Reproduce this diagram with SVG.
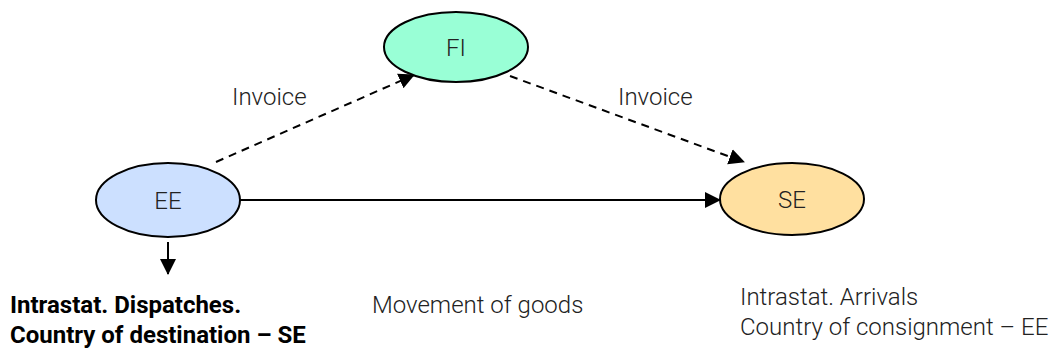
<svg xmlns="http://www.w3.org/2000/svg" width="1051" height="352" viewBox="0 0 1051 352">
<defs>
<marker id="ahd" markerWidth="16" markerHeight="18" refX="15" refY="8" orient="auto" markerUnits="userSpaceOnUse" viewBox="0 0 16 16">
<path d="M0,0 L16,8 L0,16 Z" fill="#000"/>
</marker>
</defs>
<style>
.node ellipse{stroke:#000;stroke-width:2}
.lbl{font-family:Roboto,"Liberation Sans",sans-serif;font-weight:300;font-size:24px;fill:#222}
.bold{font-family:Roboto,"Liberation Sans",sans-serif;font-weight:700;font-size:24px;fill:#000}
.edge{stroke:#000;stroke-width:2;fill:none}
.dash{stroke-dasharray:8 6}
</style>
<rect width="1051" height="352" fill="#fff"/>
<g id="connectors">
<line class="edge dash" x1="216" y1="162" x2="414" y2="75" marker-end="url(#ahd)"/>
<line class="edge dash" x1="510" y1="76" x2="744" y2="162" marker-end="url(#ahd)"/>
<line class="edge" x1="240" y1="200" x2="720" y2="200" marker-end="url(#ahd)"/>
<line class="edge" x1="168" y1="242" x2="168" y2="274" marker-end="url(#ahd)"/>
</g>
<g id="node-EE" class="node">
<ellipse cx="168" cy="200" rx="72" ry="37" fill="#cce0ff"/>
<text class="lbl" x="168" y="209" text-anchor="middle">EE</text>
</g>
<g id="node-FI" class="node">
<ellipse cx="456" cy="47" rx="72" ry="35" fill="#99ffd6"/>
<text class="lbl" x="456" y="56" text-anchor="middle">FI</text>
</g>
<g id="node-SE" class="node">
<ellipse cx="792" cy="199" rx="72" ry="36" fill="#ffe0a0"/>
<text class="lbl" x="792" y="208" text-anchor="middle">SE</text>
</g>
<g id="labels">
<text class="lbl" x="232" y="105">Invoice</text>
<text class="lbl" x="618" y="105">Invoice</text>
<text class="lbl" x="372" y="313">Movement of goods</text>
<text class="lbl" x="740" y="305">Intrastat. Arrivals</text>
<text class="lbl" x="740" y="335">Country of consignment – EE</text>
<text class="bold" x="10" y="313">Intrastat. Dispatches.</text>
<text class="bold" x="10" y="343">Country of destination – SE</text>
</g>
</svg>
